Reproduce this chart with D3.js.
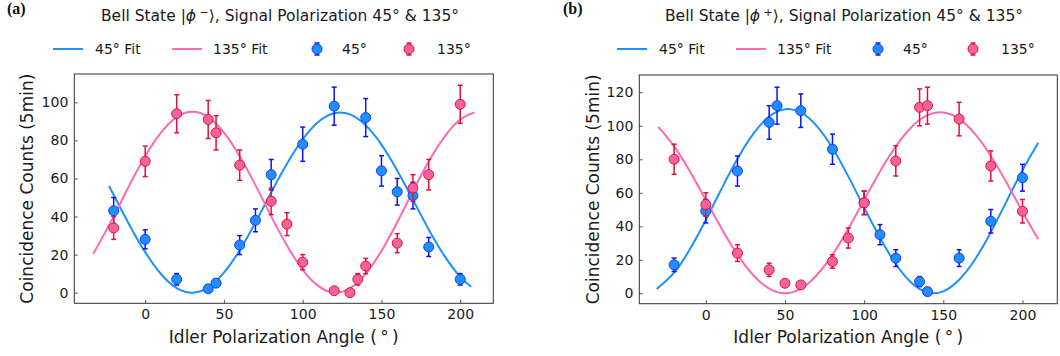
<!DOCTYPE html>
<html>
<head>
<meta charset="utf-8">
<script src="https://cdn.jsdelivr.net/npm/d3@7"></script>
<style>
  body { margin: 0; background: #fff; }
  svg { display: block; font-family: "DejaVu Sans", sans-serif; }
</style>
</head>
<body>
<svg id="chart" width="1060" height="356"></svg>
<script>
// ---------- data ----------
const xTicks = [0, 50, 100, 150, 200];
const yTicksA = [0, 20, 40, 60, 80, 100];
const yTicksB = [0, 20, 40, 60, 80, 100, 120];

// Panel (a): Bell state |phi->
const aBlueX = [-20, 0, 20, 40, 45, 60, 70, 80, 100, 120, 140, 150, 160, 170, 180, 200];
const aBlueY = [43, 28, 7, 2, 5, 25, 38, 62, 78, 98, 92, 64, 53, 51, 24, 7];
const aBlueE = [7, 5, 3, 1, 2, 5, 6, 8, 9, 10, 10, 8, 7, 7, 5, 3];
const aPinkX = [-20, 0, 20, 40, 45, 60, 80, 90, 100, 120, 130, 135, 140, 160, 170, 180, 200];
const aPinkY = [34, 69, 94, 91, 84, 67, 48, 36, 16, 1, 0, 7, 14, 26, 55, 62, 99];
const aPinkE = [6, 8, 10, 10, 9, 8, 7, 6, 4, 1, 0, 3, 4, 5, 7, 8, 10];
const aFit45X = [-23, -20, -10, 0, 10, 20, 30, 40, 50, 60, 70, 80, 90, 100, 110, 120, 130, 140, 150, 160, 170, 180, 190, 200, 207];
const aFit45Y = [56.0, 51.3, 35.6, 21.3, 9.8, 2.4, 0.0, 2.8, 10.5, 22.3, 36.9, 52.6, 67.7, 80.5, 89.8, 94.3, 93.7, 87.9, 77.8, 64.2, 48.8, 33.2, 19.3, 8.3, 3.1];
const aFit135X = [-33, -30, -20, -10, 0, 10, 20, 30, 40, 50, 60, 70, 80, 90, 100, 110, 120, 130, 140, 150, 160, 170, 180, 190, 200, 209];
const aFit135Y = [20.5, 24.8, 40.1, 56.5, 71.7, 84.1, 92.2, 95.0, 92.2, 84.1, 71.7, 56.5, 40.1, 24.8, 12.0, 3.4, 0.0, 2.3, 9.9, 21.9, 37.0, 53.3, 68.9, 81.9, 91.0, 94.7];

// Panel (b): Bell state |phi+>
const bBlueX = [-20, 0, 20, 40, 45, 60, 80, 100, 110, 120, 135, 140, 160, 180, 200];
const bBlueY = [17, 49, 73, 102, 112, 109, 86, 54, 35, 21, 7, 1, 21, 43, 69];
const bBlueE = [4, 7, 9, 10, 11, 10, 9, 7, 6, 5, 3, 1, 5, 7, 8];
const bPinkX = [-20, 0, 20, 40, 50, 60, 80, 90, 100, 120, 135, 140, 160, 180, 200];
const bPinkY = [80, 53, 24, 14, 6, 5, 19, 33, 54, 79, 111, 112, 104, 76, 49];
const bPinkE = [9, 7, 5, 4, 2, 2, 4, 6, 7, 9, 11, 11, 10, 9, 7];
const bFit45X = [-31, -20, -10, 0, 10, 20, 30, 40, 50, 60, 70, 80, 90, 100, 110, 120, 130, 140, 150, 160, 170, 180, 190, 200, 210];
const bFit45Y = [2.6, 12.3, 26.4, 43.8, 62.5, 80.3, 95.2, 105.5, 109.9, 108.0, 99.9, 86.7, 69.8, 51.2, 33.2, 17.5, 6.2, 0.5, 1.2, 8.1, 20.2, 36.5, 55.0, 73.4, 89.8];
const bFit135X = [-30, -20, -10, 0, 10, 20, 30, 40, 50, 60, 70, 80, 90, 100, 110, 120, 130, 140, 150, 160, 170, 180, 190, 200, 210];
const bFit135Y = [99.3, 87.7, 72.7, 55.7, 38.6, 23.1, 10.8, 2.8, 0.0, 2.8, 10.8, 23.1, 38.6, 55.7, 72.7, 87.7, 99.3, 106.3, 107.9, 104.1, 95.1, 82.0, 66.0, 48.7, 32.2];

const legendLabels = ["45° Fit", "135° Fit", "45°", "135°"];

// ---------- styles ----------
const C = {
  fit45: "#1e90ff", fit135: "#ff69b4",
  dot45: "#1e8fff", edge45: "#1a3cff", bar45: "#0a14f0",
  dot135: "#f7629a", edge135: "#dc143c", bar135: "#dc143c",
  frame: "#333"
};

const svg = d3.select("#chart");

function zip(xs, ys, es) { return xs.map((x, i) => ({ x, y: ys[i], e: es ? es[i] : 0 })); }

function panel(cfg) {
  const x = d3.scaleLinear().domain(cfg.xDom).range([cfg.left, cfg.right]);
  const y = d3.scaleLinear().domain(cfg.yDom).range([cfg.bottom, cfg.top]);
  const g = svg.append("g");

  // axes
  const xa = g.append("g").attr("transform", `translate(0,${cfg.bottom})`)
    .call(d3.axisBottom(x).tickValues(xTicks).tickSizeInner(-3.5).tickSizeOuter(0).tickPadding(6).tickFormat(d3.format("d")));
  const ya = g.append("g").attr("transform", `translate(${cfg.left},0)`)
    .call(d3.axisLeft(y).tickValues(cfg.yTicks).tickSizeInner(-3.5).tickSizeOuter(0).tickPadding(6).tickFormat(d3.format("d")));
  [xa, ya].forEach(a => {
    a.select(".domain").remove();
    a.selectAll(".tick line").attr("stroke", "#444").attr("stroke-width", 0.9);
    a.selectAll(".tick text").attr("fill", "#1a1a1a").style("font-size", "14px").style("font-family", "DejaVu Sans");
  });

  // fit lines
  const line = d3.line().x(d => x(d.x)).y(d => y(d.y)).curve(d3.curveNatural);
  g.append("path").datum(zip(cfg.fit45X, cfg.fit45Y)).attr("d", line)
    .attr("fill", "none").attr("stroke", C.fit45).attr("stroke-width", 2);
  g.append("path").datum(zip(cfg.fit135X, cfg.fit135Y)).attr("d", line)
    .attr("fill", "none").attr("stroke", C.fit135).attr("stroke-width", 2);

  // error bar series
  function series(data, dot, edge, bar) {
    const s = g.append("g");
    const pts = s.selectAll("g").data(data).join("g");
    pts.append("line").attr("x1", d => x(d.x)).attr("x2", d => x(d.x))
      .attr("y1", d => y(d.y - d.e)).attr("y2", d => y(d.y + d.e))
      .attr("stroke", bar).attr("stroke-width", 1.5);
    pts.append("line").attr("x1", d => x(d.x) - 2.5).attr("x2", d => x(d.x) + 2.5)
      .attr("y1", d => y(d.y + d.e)).attr("y2", d => y(d.y + d.e))
      .attr("stroke", bar).attr("stroke-width", 1.5);
    pts.append("line").attr("x1", d => x(d.x) - 2.5).attr("x2", d => x(d.x) + 2.5)
      .attr("y1", d => y(d.y - d.e)).attr("y2", d => y(d.y - d.e))
      .attr("stroke", bar).attr("stroke-width", 1.5);
    pts.append("circle").attr("cx", d => x(d.x)).attr("cy", d => y(d.y)).attr("r", 5)
      .attr("fill", dot).attr("stroke", edge).attr("stroke-width", 1);
  }
  series(zip(cfg.blueX, cfg.blueY, cfg.blueE), C.dot45, C.edge45, C.bar45);
  series(zip(cfg.pinkX, cfg.pinkY, cfg.pinkE), C.dot135, C.edge135, C.bar135);

  // frame
  g.append("rect").attr("x", cfg.left).attr("y", cfg.top)
    .attr("width", cfg.right - cfg.left).attr("height", cfg.bottom - cfg.top)
    .attr("fill", "none").attr("stroke", C.frame).attr("stroke-width", 1);

  // axis labels
  const cx = (cfg.left + cfg.right) / 2, cy = (cfg.top + cfg.bottom) / 2;
  g.append("text").attr("x", cx).attr("y", 343).attr("text-anchor", "middle")
    .style("font-size", "17px").attr("fill", "#1a1a1a").text("Idler Polarization Angle (\u2009°\u2009)");
  g.append("text").attr("transform", `translate(${cfg.ylabX},${cy}) rotate(-90)`)
    .attr("text-anchor", "middle").style("font-size", "17px").attr("fill", "#1a1a1a")
    .text("Coincidence Counts (5min)");

  // title
  const t = g.append("text").attr("x", cfg.titleX).attr("y", 21).attr("text-anchor", "middle")
    .style("font-size", "15.5px").attr("fill", "#1a1a1a");
  t.append("tspan").text("Bell State |");
  t.append("tspan").style("font-style", "italic").text("ϕ");
  t.append("tspan").attr("dy", -5).style("font-size", "11px").text(" " + cfg.sign);
  t.append("tspan").attr("dy", 5).text("⟩, Signal Polarization 45° & 135°");

  // panel letter
  g.append("text").attr("x", cfg.letterX).attr("y", 14)
    .style("font-family", "'Liberation Serif', 'DejaVu Serif', serif").style("font-weight", "bold")
    .style("font-size", "16px").attr("fill", "#111").text(cfg.letter);

  // legend
  const ly = 49, lb = 54;
  const L = cfg.legend;
  g.append("line").attr("x1", L[0]).attr("x2", L[0] + 30).attr("y1", ly).attr("y2", ly)
    .attr("stroke", C.fit45).attr("stroke-width", 2);
  g.append("text").attr("x", L[0] + 42).attr("y", lb).style("font-size", "14px").attr("fill", "#1a1a1a").text(legendLabels[0]);
  g.append("line").attr("x1", L[1]).attr("x2", L[1] + 30).attr("y1", ly).attr("y2", ly)
    .attr("stroke", C.fit135).attr("stroke-width", 2);
  g.append("text").attr("x", L[1] + 41).attr("y", lb).style("font-size", "14px").attr("fill", "#1a1a1a").text(legendLabels[1]);
  function legMarker(mx, dot, edge, bar) {
    g.append("line").attr("x1", mx).attr("x2", mx).attr("y1", ly - 6).attr("y2", ly + 6).attr("stroke", bar).attr("stroke-width", 1.5);
    g.append("line").attr("x1", mx - 2.5).attr("x2", mx + 2.5).attr("y1", ly - 6).attr("y2", ly - 6).attr("stroke", bar).attr("stroke-width", 1.5);
    g.append("line").attr("x1", mx - 2.5).attr("x2", mx + 2.5).attr("y1", ly + 6).attr("y2", ly + 6).attr("stroke", bar).attr("stroke-width", 1.5);
    g.append("circle").attr("cx", mx).attr("cy", ly).attr("r", 5).attr("fill", dot).attr("stroke", edge).attr("stroke-width", 1);
  }
  legMarker(L[2], C.dot45, C.edge45, C.bar45);
  g.append("text").attr("x", L[2] + 25).attr("y", lb).style("font-size", "14px").attr("fill", "#1a1a1a").text(legendLabels[2]);
  legMarker(L[3], C.dot135, C.edge135, C.bar135);
  g.append("text").attr("x", L[3] + 28).attr("y", lb).style("font-size", "14px").attr("fill", "#1a1a1a").text(legendLabels[3]);
}

panel({
  left: 74.3, right: 493.3, top: 74, bottom: 303.3,
  xDom: [-45, 221], yDom: [-5.6, 114.9], yTicks: yTicksA,
  blueX: aBlueX, blueY: aBlueY, blueE: aBlueE,
  pinkX: aPinkX, pinkY: aPinkY, pinkE: aPinkE,
  fit45X: aFit45X, fit45Y: aFit45Y, fit135X: aFit135X, fit135Y: aFit135Y,
  ylabX: 33, titleX: 280, sign: "−", letter: "(a)", letterX: 7,
  legend: [53, 172, 317, 409]
});

panel({
  left: 639.3, right: 1057.3, top: 75, bottom: 303.7,
  xDom: [-42, 222], yDom: [-6.2, 130.3], yTicks: yTicksB,
  blueX: bBlueX, blueY: bBlueY, blueE: bBlueE,
  pinkX: bPinkX, pinkY: bPinkY, pinkE: bPinkE,
  fit45X: bFit45X, fit45Y: bFit45Y, fit135X: bFit135X, fit135Y: bFit135Y,
  ylabX: 599, titleX: 844, sign: "+", letter: "(b)", letterX: 563,
  legend: [617, 736, 878, 973]
});
</script>
</body>
</html>
